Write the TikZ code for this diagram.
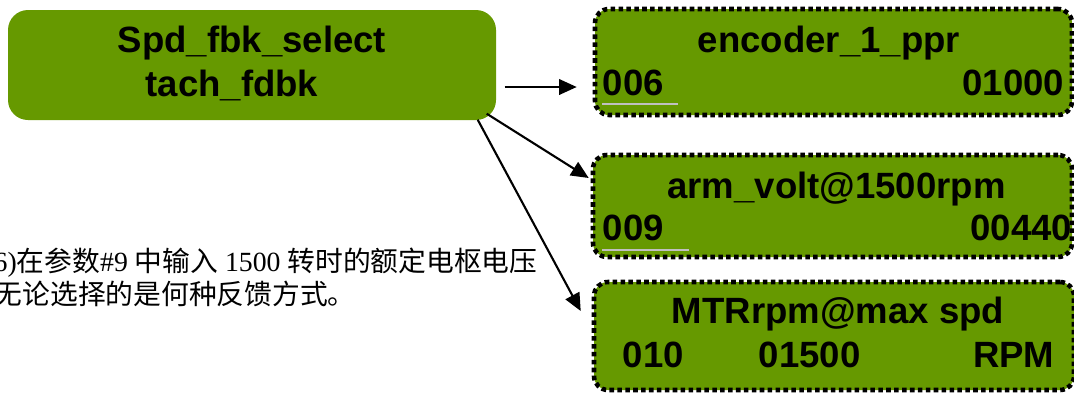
\documentclass[tikz,border=0pt]{standalone}
\usepackage{fontspec}
\setmainfont{Liberation Serif}
\setsansfont{Liberation Sans}
\newfontfamily\cjk{Noto Sans CJK SC}
\usetikzlibrary{arrows.meta}
\definecolor{boxgreen}{RGB}{102,153,0}
\definecolor{markgray}{RGB}{192,192,192}

\begin{document}
\begin{tikzpicture}[
  mainbox/.style={fill=boxgreen, rounded corners=0.2cm, inner sep=0pt,
    minimum width=4.88cm, minimum height=1.10cm},
  parbox/.style={fill=boxgreen, draw=black, line width=1.3pt,
    dash pattern=on 1.3pt off 0.95pt, rounded corners=0.14cm, inner sep=0pt},
  lbl/.style={font=\sffamily\bfseries\fontsize{10.4}{12}\selectfont,
    inner sep=0pt, anchor=base},
  lblw/.style={lbl, anchor=base west},
  lble/.style={lbl, anchor=base east},
  note/.style={font=\fontsize{7.9}{9}\selectfont, inner sep=0pt, anchor=base west},
  arr/.style={line width=0.6pt, -{Triangle[length=5pt,width=4.4pt]}},
  numline/.style={draw=markgray, line width=0.85pt}
]
\useasboundingbox (0,0) rectangle (10.74,3.92);
\clip (0,0) rectangle (10.74,3.92);

% selector block
\node[mainbox] (sel) at (2.52,3.27) {};
\node[lbl] (selA) at (2.52,3.40) {Spd\_fbk\_select};
\node[lbl] (selB) at (2.32,2.96) {tach\_fdbk};

% parameter 6
\node[parbox, minimum width=4.77cm, minimum height=1.06cm] (p6) at (8.335,3.30) {};
\node[lbl] (p6name) at (8.29,3.40) {encoder\_1\_ppr};
\node[lblw] (p6num) at (6.02,2.97) {006};
\node[lble] (p6val) at (10.65,2.97) {01000};
\coordinate (p6m1) at (6.02,2.88);
\coordinate (p6m2) at (6.78,2.88);
\draw[numline] (p6m1) -- (p6m2);

% parameter 9
\node[parbox, minimum width=4.79cm, minimum height=1.02cm] (p9) at (8.325,1.86) {};
\node[lbl] (p9name) at (8.365,1.94) {arm\_volt@1500rpm};
\node[lblw] (p9num) at (6.02,1.52) {009};
\node[lble] (p9val) at (10.73,1.52) {00440};
\coordinate (p9m1) at (6.02,1.42);
\coordinate (p9m2) at (6.89,1.42);
\draw[numline] (p9m1) -- (p9m2);

% parameter 10
\node[parbox, minimum width=4.80cm, minimum height=1.08cm] (p10) at (8.34,0.56) {};
\node[lbl] (p10name) at (8.38,0.69) {MTRrpm@max spd};
\node[lblw] (p10num) at (6.22,0.25) {010};
\node[lblw] (p10val) at (7.58,0.25) {01500};
\node[lble] (p10unit) at (10.55,0.25) {RPM};

% connectors
\draw[arr] ([xshift=0.08cm,yshift=-0.22cm]sel.east) -- ([xshift=-0.16cm,yshift=-0.25cm]p6.west);
\draw[arr] ([xshift=-0.10cm,yshift=0.07cm]sel.south east) -- ([xshift=-0.02cm,yshift=0.28cm]p9.west);
\draw[arr] ([xshift=-0.19cm,yshift=0.01cm]sel.south east) -- ([xshift=-0.11cm,yshift=0.25cm]p10.west);

% explanatory note
\node[note] (noteA) at (-0.07,1.21) {6){\cjk 在参数}\#9 {\cjk 中输入} 1500 {\cjk 转时的额定电枢电压}};
\node[note] (noteB) at (-0.06,0.88) {{\cjk 无论选择的是何种反馈方式。}};
\end{tikzpicture}
\end{document}
